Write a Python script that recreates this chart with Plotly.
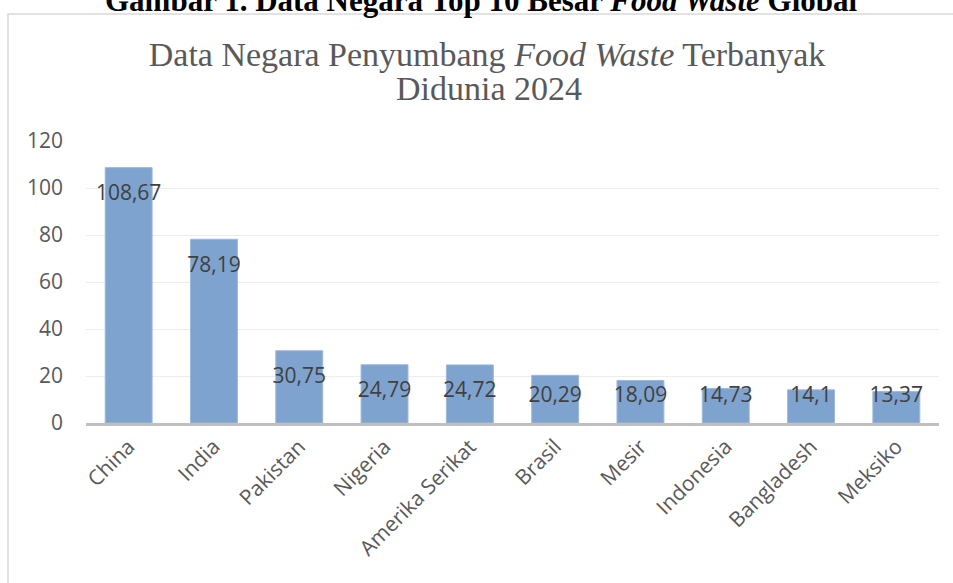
import plotly.graph_objects as go

countries = ["China", "India", "Pakistan", "Nigeria", "Amerika Serikat", "Brasil",
             "Mesir", "Indonesia", "Bangladesh", "Meksiko"]
values = [108.67, 78.19, 30.75, 24.79, 24.72, 20.29, 18.09, 14.73, 14.1, 13.37]
labels = ["108,67", "78,19", "30,75", "24,79", "24,72", "20,29", "18,09", "14,73", "14,1", "13,37"]
y_ticks = [0, 20, 40, 60, 80, 100, 120]

W, H = 953, 583
L, R, T, B = 86, 14, 141, 160
pw, ph = W - L - R, H - T - B

def px_x(p):
    return (p - L) / pw

def px_y(p):
    return (H - B - p) / ph

# label positions: inside end of bar, clamped near the base for short bars
label_y = [max(v - 11.5, 11.2) for v in values]

SANS = "Open Sans"
SERIF = "Liberation Serif"

fig = go.Figure()
fig.add_trace(go.Bar(
    x=countries, y=values, width=0.55,
    marker=dict(color="#7FA3CF", line=dict(color="#9DB8DC", width=1)),
    hoverinfo="x+y",
))
fig.add_trace(go.Scatter(
    x=countries, y=label_y, mode="text", text=labels,
    textposition="middle center",
    textfont=dict(family=SANS, size=21, color="#404040"),
    hoverinfo="skip",
))

fig.update_layout(
    width=W, height=H,
    margin=dict(l=L, r=R, t=T, b=B),
    paper_bgcolor="white", plot_bgcolor="white",
    showlegend=False,
    title=dict(
        text="Data Negara Penyumbang <i>Food Waste</i> Terbanyak",
        x=487 / W, xanchor="center", xref="container",
        y=1 - 54 / H, yanchor="middle",
        font=dict(family=SERIF, size=34, color="#595959"),
    ),
    xaxis=dict(
        tickangle=-45,
        tickfont=dict(family=SANS, size=21, color="#595959"),
        showline=True, linecolor="#BFBFBF", linewidth=3,
        showgrid=False, ticks="", fixedrange=True,
    ),
    yaxis=dict(
        range=[0, 120], tickvals=y_ticks,
        tickfont=dict(family=SANS, size=21, color="#595959"),
        showgrid=True, gridcolor="#EDEDED", gridwidth=1,
        zeroline=False, showline=False, ticks="",
        ticklabelstandoff=22, fixedrange=True,
    ),
    annotations=[
        dict(text="Didunia 2024", xref="paper", yref="paper",
             x=px_x(489), y=px_y(88), xanchor="center", yanchor="middle",
             showarrow=False,
             font=dict(family=SERIF, size=34, color="#595959")),
        dict(text="Gambar 1. Data Negara Top 10 Besar <i>Food Waste</i> Global",
             xref="paper", yref="paper",
             x=px_x(481), y=px_y(0), xanchor="center", yanchor="middle",
             showarrow=False,
             font=dict(family=SERIF, size=31, color="black", weight="bold")),
    ],
    shapes=[
        dict(type="rect", xref="paper", yref="paper",
             x0=px_x(8), x1=px_x(975), y0=px_y(600), y1=px_y(14),
             line=dict(color="#D9D9D9", width=1.5), fillcolor="rgba(0,0,0,0)",
             layer="below"),
    ],
)

fig.write_html("out.html", config={"displayModeBar": False},
               post_script="document.body.style.margin='0px';")
